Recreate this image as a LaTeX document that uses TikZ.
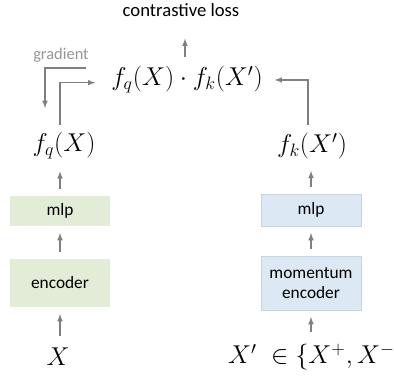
\documentclass[tikz,border=0pt]{standalone}
\usepackage{fontspec, amsmath}
\setmainfont{Carlito}
\usetikzlibrary{positioning}
\tikzset{>=latex}

\definecolor{arrowgray}{RGB}{128,128,128}
\definecolor{gradgray}{RGB}{150,150,150}
\definecolor{qfill}{RGB}{226,236,215}
\definecolor{kfill}{RGB}{220,233,244}
\definecolor{kdraw}{RGB}{200,212,224}

\tikzset{
  qbox/.style={rectangle, fill=qfill, minimum width=75pt, align=center, font=\fontsize{13}{14.5}\selectfont},
  kbox/.style={rectangle, fill=kfill, draw=kdraw, line width=0.4pt, minimum width=75pt, align=center, font=\fontsize{13}{14.5}\selectfont},
  bigmath/.style={font=\fontsize{17.28}{20}\selectfont, scale=1.12, transform shape},
  flow/.style={->, arrowgray, line width=0.9pt, shorten <=5pt, shorten >=5pt},
}

\begin{document}
\begin{tikzpicture}[x=0.75pt, y=-0.75pt]
\useasboundingbox (0,0) rectangle (394,378);

% query branch
\node[bigmath] (X) at (58,357) {$X$};
\node[qbox, minimum height=36pt] (enc) at (60,283) {encoder};
\node[qbox, minimum height=22.5pt] (mlpq) at (60,211) {mlp};
\node[bigmath] (fq) at (64,146) {$f_q(X)$};

% key branch
\node[bigmath] (Xk) at (318,357) {$X'\;\in\{X^{+},X^{-}\}$};
\node[kbox, minimum height=40.5pt] (menc) at (311,283) {momentum\\encoder};
\node[kbox, minimum height=24pt] (mlpk) at (311,210) {mlp};
\node[bigmath] (fk) at (312,146) {$f_k(X')$};

% similarity and loss
\node[bigmath] (dot) at (187,80) {$f_q(X)\cdot f_k(X')$};
\node[font=\fontsize{14}{16}\selectfont] (loss) at (181,10) {contrastive loss};
\node[font=\fontsize{12.3}{14}\selectfont, text=gradgray] (grad) at (61,55) {gradient};
\coordinate (gs) at (86,68);
\coordinate (ge) at (45,108);

\draw[flow] (X.north -| enc) -- (enc.south);
\draw[flow] (enc.north) -- (mlpq.south);
\draw[flow] (mlpq.north) -- (mlpq.north |- fq.south);
\draw[flow] (Xk.north -| menc) -- (menc.south);
\draw[flow] (menc.north) -- (mlpk.south);
\draw[flow] (mlpk.north) -- (mlpk.north |- fk.south);

\draw[->, arrowgray, line width=0.9pt, shorten <=2pt, shorten >=8pt] ([xshift=-3pt]fq.north) |- ([yshift=-2pt]dot.west);
\draw[->, arrowgray, line width=0.9pt, shorten <=2pt, shorten >=5pt] ([xshift=-3pt]fk.north) |- (dot.east);
\draw[->, arrowgray, line width=0.9pt] (gs) -| (ge);
\draw[->, arrowgray, line width=0.9pt, shorten <=3pt, shorten >=13pt] (dot.north -| 185,0) -- (loss.south -| 185,0);
\end{tikzpicture}
\end{document}
